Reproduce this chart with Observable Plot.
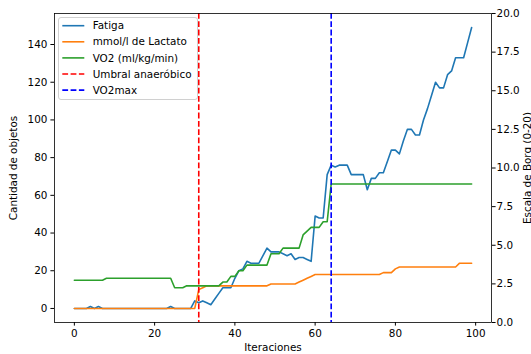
<!DOCTYPE html>
<html>
<head>
<meta charset="utf-8">
<script src="https://cdn.jsdelivr.net/npm/d3@7"></script>
<script src="https://cdn.jsdelivr.net/npm/@observablehq/plot@0.6"></script>
<style>
  html, body { margin: 0; padding: 0; background: #fff; }
  #chart { width: 531px; height: 354px; }
</style>
</head>
<body>
<div id="chart"></div>
<script>
// Iteration index shared by every series
const iteraciones = d3.range(100);

// Fatigue (object count) per iteration
const fatiga = [
  0, 0, 0, 0, 1, 0, 1, 0, 0, 0,
  0, 0, 0, 0, 0, 0, 0, 0, 0, 0,
  0, 0, 0, 0, 1, 0, 0, 0, 0, 0,
  4, 3, 4, 3, 2, 5, 8, 11, 11, 11,
  16, 20, 21, 25, 24, 24, 24, 28, 32, 30,
  30, 30, 29, 28, 29, 26, 27, 27, 26, 25,
  49, 48, 48, 71, 76, 75, 76, 76, 76, 71,
  71, 71, 71, 63, 69, 69, 72, 72, 78, 84,
  84, 82, 89, 95, 95, 92, 92, 100, 106, 113,
  120, 117, 117, 124, 126, 133, 133, 133, 141, 149
];

// Lactate (mmol/l) per iteration
const lactato = [
  0, 0, 0, 0, 0, 0, 0, 0, 0, 0,
  0, 0, 0, 0, 0, 0, 0, 0, 0, 0,
  0, 0, 0, 0, 0, 0, 0, 0, 0, 0,
  0, 10, 11, 12, 12, 12, 12, 12, 12, 12,
  12, 12, 12, 12, 12, 12, 12, 12, 12, 13,
  13, 13, 13, 13, 13, 13, 14, 15, 16, 17,
  18, 18, 18, 18, 18, 18, 18, 18, 18, 18,
  18, 18, 18, 18, 18, 18, 18, 19, 19, 19,
  21, 22, 22, 22, 22, 22, 22, 22, 22, 22,
  22, 22, 22, 22, 22, 22, 24, 24, 24, 24
];

// VO2 (ml/kg/min) per iteration
const vo2 = [
  15, 15, 15, 15, 15, 15, 15, 15, 16, 16,
  16, 16, 16, 16, 16, 16, 16, 16, 16, 16,
  16, 16, 16, 16, 16, 11, 11, 11, 12, 12,
  12, 12, 12, 12, 12, 12, 12, 14, 14, 17,
  17, 20, 20, 23, 23, 23, 23, 23, 23, 29,
  29, 29, 32, 32, 32, 32, 32, 39, 41, 43,
  43, 43, 46, 46, 66, 66, 66, 66, 66, 66,
  66, 66, 66, 66, 66, 66, 66, 66, 66, 66,
  66, 66, 66, 66, 66, 66, 66, 66, 66, 66,
  66, 66, 66, 66, 66, 66, 66, 66, 66, 66
];

// Reference iterations
const umbralAnaerobico = 31;
const vo2maxIteracion = 64;

// Tick values
const xTicks = [0, 20, 40, 60, 80, 100];
const yTicks = [0, 20, 40, 60, 80, 100, 120, 140];
const borgTicks = [0, 2.5, 5, 7.5, 10, 12.5, 15, 17.5, 20];
const borgDomain = [0, 20];

const series = [
  { name: "Fatiga", values: fatiga, color: "#1f77b4" },
  { name: "mmol/l de Lactato", values: lactato, color: "#ff7f0e" },
  { name: "VO2 (ml/kg/min)", values: vo2, color: "#2ca02c" }
];
const refLines = [
  { name: "Umbral anaeróbico", x: umbralAnaerobico, color: "#ff0000" },
  { name: "VO2max", x: vo2maxIteracion, color: "#0000ff" }
];

const dash = "5.8,2.5";
const padded = ([a, b]) => { const m = (b - a) * 0.05; return [a - m, b + m]; };
const xDomain = padded(d3.extent(iteraciones));
const yDomain = padded(d3.extent([...fatiga, ...lactato, ...vo2]));
// Secondary (Borg) axis shares the vertical extent of the primary one
const borgToY = d3.scaleLinear(borgDomain, yDomain);

const font = "'DejaVu Sans', sans-serif";

const plot = Plot.plot({
  width: 531,
  height: 354,
  marginLeft: 54,
  marginRight: 40,
  marginTop: 13,
  marginBottom: 32,
  style: { fontFamily: font, fontSize: "10.4px", color: "#000", background: "#fff" },
  x: { domain: xDomain },
  y: { domain: yDomain },
  marks: [
    ...series.map(s => Plot.line(iteraciones, {
      x: d => d, y: i => s.values[i], stroke: s.color, strokeWidth: 1.6
    })),
    ...refLines.map(r => Plot.ruleX([r.x], {
      stroke: r.color, strokeWidth: 1.6, strokeDasharray: dash
    })),
    Plot.frame({ stroke: "#000", strokeWidth: 0.8 }),
    Plot.axisX({
      ticks: xTicks, tickSize: 3.6, tickPadding: 3.5, tickFormat: d => String(d),
      label: "Iteraciones", labelAnchor: "center", labelArrow: "none", labelOffset: 28
    }),
    Plot.axisY({
      ticks: yTicks, tickSize: 3.6, tickPadding: 3.5, tickFormat: d => String(d),
      label: "Cantidad de objetos", labelAnchor: "center", labelArrow: "none", labelOffset: 45
    }),
    Plot.axisY({
      anchor: "right", ticks: borgTicks.map(borgToY), tickSize: 3.6, tickPadding: 1.5,
      tickFormat: d => borgToY.invert(d).toFixed(1),
      label: "Escala de Borg (0-20)", labelAnchor: "center", labelArrow: "none", labelOffset: 39
    })
  ]
});

// Legend box in the upper-left corner of the plotting area
const entries = [
  ...series.map(s => ({ name: s.name, color: s.color, dash: null })),
  ...refLines.map(r => ({ name: r.name, color: r.color, dash }))
];
const svg = d3.select(plot);
const lg = svg.append("g").attr("transform", "translate(58.5,17.5)");
lg.append("rect")
  .attr("width", 139).attr("height", 82).attr("rx", 2.5)
  .attr("fill", "#fff").attr("fill-opacity", 0.8)
  .attr("stroke", "#d0d0d0").attr("stroke-width", 1);
entries.forEach((e, k) => {
  const y = 8.2 + k * 16.1;
  lg.append("line")
    .attr("x1", 3.8).attr("x2", 25.8).attr("y1", y).attr("y2", y)
    .attr("stroke", e.color).attr("stroke-width", 1.6)
    .attr("stroke-dasharray", e.dash);
  lg.append("text")
    .attr("x", 34.2).attr("y", y).attr("dy", "0.35em")
    .attr("text-anchor", "start")
    .attr("font-family", font).attr("font-size", "10.4px").attr("fill", "#000")
    .text(e.name);
});

document.getElementById("chart").append(plot);
</script>
</body>
</html>
